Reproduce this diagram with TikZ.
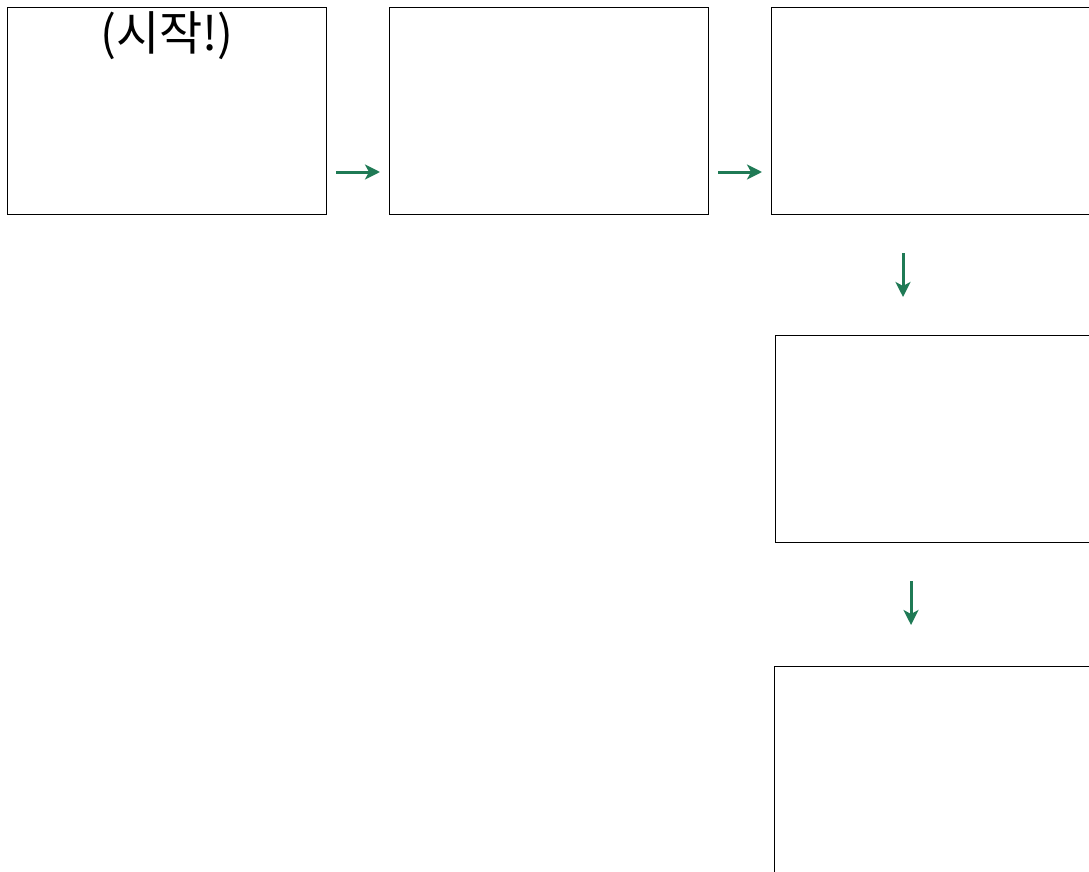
\documentclass[tikz,border=0pt]{standalone}
\usepackage{fontspec}
\newfontfamily\korfont{Noto Sans CJK KR}
\usetikzlibrary{arrows.meta, positioning}
\definecolor{stepgreen}{HTML}{1F7A55}
\tikzset{
  >={Stealth[length=15pt, width=15pt, inset=4pt]},
  box/.style={rectangle, draw=black, line width=1pt, anchor=north west,
              minimum width=319pt, minimum height=207pt, inner sep=0pt},
  flow/.style={->, line width=3pt, draw=stepgreen, fill=stepgreen},
  lbl/.style={font=\korfont\fontsize{47}{56}\selectfont, inner sep=0pt},
}
\begin{document}
\begin{tikzpicture}[x=1pt, y=-1pt]
  \useasboundingbox (0,0) rectangle (1089,872);
  \clip (0,0) rectangle (1089,872);
  \node[box] (first) at (7,7) {};
  \node[box] (second) at (389,7) {};
  \node[box] (third) at (771,7) {};
  \node[box] (fourth) at (775,335) {};
  \node[box] (fifth) at (774,666) {};
  \node[lbl, anchor=north, below=4pt of first.north] (start) {(시작!)};
  \draw[flow] ([xshift=9pt, yshift=43pt]first.south east) -- ([xshift=-9pt, yshift=43pt]second.south west);
  \draw[flow] ([xshift=9pt, yshift=43pt]second.south east) -- ([xshift=-9pt, yshift=43pt]third.south west);
  \draw[flow] ([xshift=132pt, yshift=-38pt]third.south west) -- ([xshift=128pt, yshift=38pt]fourth.north west);
  \draw[flow] ([xshift=136pt, yshift=-38pt]fourth.south west) -- ([xshift=137pt, yshift=41pt]fifth.north west);
\end{tikzpicture}
\end{document}
